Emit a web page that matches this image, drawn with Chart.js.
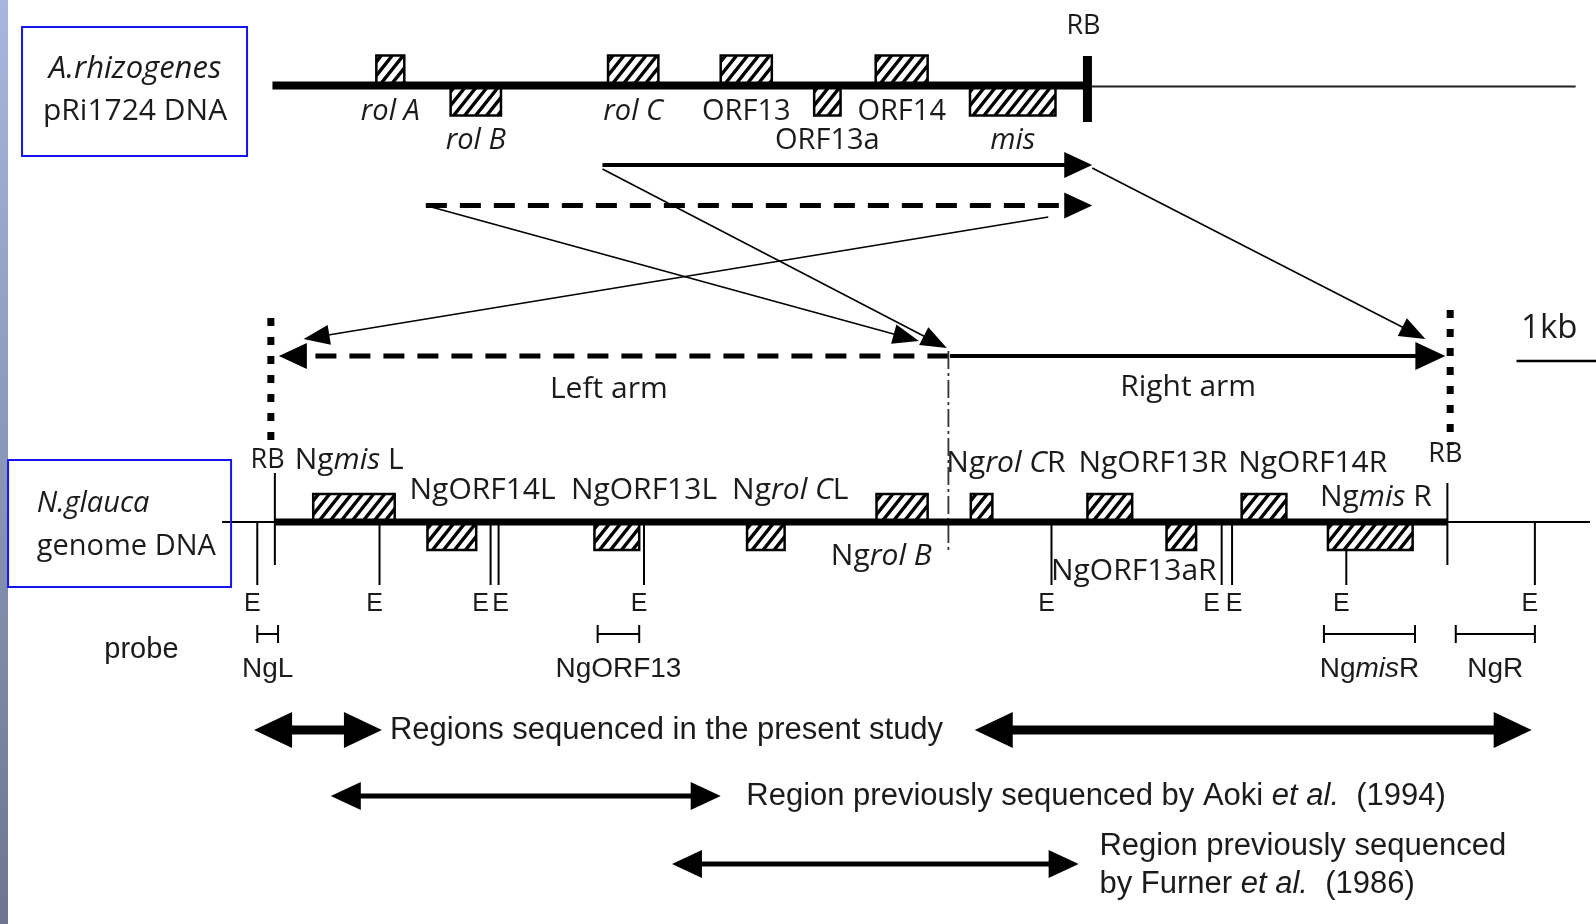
<!DOCTYPE html>
<html>
<head>
<meta charset="utf-8">
<script src="https://cdn.jsdelivr.net/npm/chart.js@4.4.0/dist/chart.umd.min.js"></script>
<style>
html, body { margin: 0; padding: 0; background: #fff; overflow: hidden; }
canvas { display: block; }
</style>
</head>
<body>
<canvas id="mapa" width="1596" height="924"></canvas>
<script>
// all positions in kb along the map axis (0 = left RB of the N. glauca copy)

// A. rhizogenes pRi1724 T-DNA
const riGenes  = ['*rol A*', '*rol B*', '*rol C*', 'ORF13', 'ORF13a', 'ORF14', '*mis*'];
const riStart  = [1.27, 2.20, 4.17, 5.58, 6.75, 7.52, 8.70];
const riEnd    = [1.62, 2.83, 4.80, 6.22, 7.08, 8.17, 9.77];
const riStrand = ['+', '-', '+', '+', '-', '+', '-'];
const riLine   = [-0.03, 10.17, 16.28];   // start, RB, end of plasmid line

// pieces of the Ri T-DNA found in the plant genome
const segDashed = [1.89, 10.23];
const segSolid  = [4.10, 10.23];
const mapFrom   = [1.89, 4.10, 9.68, 10.23];
const mapTo     = [8.06, 8.41, 0.36, 14.40];

// N. glauca cellular T-DNA
const ngGenes  = ['Ng*mis* L', 'NgORF14L', 'NgORF13L', 'Ng*rol C*L', 'Ng*rol B*', 'Ng*rol C*R', 'NgORF13R', 'NgORF13aR', 'NgORF14R', 'Ng*mis* R'];
const ngStart  = [0.48, 1.91, 4.00, 5.91, 7.53, 8.71, 10.17, 11.16, 12.10, 13.18];
const ngEnd    = [1.50, 2.52, 4.56, 6.38, 8.17, 8.98, 10.73, 11.53, 12.66, 14.24];
const ngStrand = ['+', '-', '-', '-', '+', '+', '+', '-', '+', '-'];
const ngLine   = [-0.66, 0, 14.675, 16.46]; // thin start, RB left, RB right, thin end
const armLeft  = [8.43, 0.05];
const armRight = [8.45, 14.65];
const junction = 8.43;

// EcoRI sites
const ecoSites = [-0.22, 1.31, 2.70, 2.80, 4.62, 9.72, 11.85, 11.98, 13.41, 15.77];

// probes
const probeNames = ['NgL', 'NgORF13', 'Ng*mis*R', 'NgR'];
const probeStart = [-0.22, 4.04, 13.13, 14.78];
const probeEnd   = [0.04, 4.56, 14.27, 15.77];

// sequenced regions
const regionStart = [-0.26, 8.76, 0.70, 4.97];
const regionEnd   = [1.34, 15.73, 5.58, 10.06];
const regionKind  = ['present', 'present', 'aoki', 'furner'];

const scaleBar = [15.54, 16.54];

// ---- layout (pixels on the y scale, label anchors in kb) ----
const lay = {
    topLine: 85.5, topBox: 30, rbBar: [56, 122], rbLabel: 26,
    topLab: { '+': 112, '-': 141 },
    tlSolid: 165, tlDashed: 205.5,
    mapY1: [205.5, 169, 217, 168], mapY2: [341, 348, 339, 339],
    dotL: [-0.05, 318, 448], dotR: [14.71, 310, 445],
    arms: 356, junc: [351, 550], armLab: 389,
    kb: 329, kbBar: 361,
    ngLine: 522, ngBox: 28,
    rbTick: [[473, 565], [483, 565]], rbLab: [[-0.09, 460], [14.65, 454]],
    eTick: [522, 585], eLab: 604,
    probe: 634, probeLab: 669, probeWord: [-1.67, 650],
    regY: { present: 730, aoki: 796, furner: 864 }
};
const ngLabX = [0.93, 2.60, 4.62, 6.45, 7.59, 9.15, 10.99, 10.75, 12.99, 13.78];
const ngLabY = [460, 490, 490, 490, 556, 463, 463, 571, 463, 497];

const INK = '#1b1b1b';
const SANS = '"Open Sans"';
const HELV = '"Liberation Sans"';

function richText(ctx, str, x, y, size, family, align) {
    const parts = str.split('*');
    let w = 0;
    const segs = parts.map((t, i) => {
        const f = (i % 2 ? 'italic ' : '') + size + 'px ' + family;
        ctx.font = f;
        const m = ctx.measureText(t).width;
        w += m;
        return { t, f, m };
    });
    let cx = align === 'center' ? x - w / 2 : x;
    ctx.textAlign = 'left';
    ctx.textBaseline = 'middle';
    ctx.fillStyle = INK;
    segs.forEach(s => { ctx.font = s.f; ctx.fillText(s.t, cx, y); cx += s.m; });
}

function hatchBox(ctx, x, y, w, h) {
    ctx.save();
    ctx.fillStyle = '#fff';
    ctx.fillRect(x, y, w, h);
    ctx.beginPath();
    ctx.rect(x, y, w, h);
    ctx.clip();
    ctx.strokeStyle = '#000';
    ctx.lineWidth = 3.4;
    ctx.beginPath();
    for (let s = -h; s < w + h; s += 11) {
        ctx.moveTo(x + s, y + h);
        ctx.lineTo(x + s + h * 0.8, y);
    }
    ctx.stroke();
    ctx.restore();
    ctx.strokeStyle = '#000';
    ctx.lineWidth = 2.5;
    ctx.strokeRect(x, y, w, h);
}

function arrow(ctx, x1, y1, x2, y2, o) {
    const a = Math.atan2(y2 - y1, x2 - x1);
    const c = Math.cos(a), s = Math.sin(a);
    const L = o.head, H = o.half;
    let sx = x1, sy = y1, ex = x2, ey = y2;
    if (o.start) { sx += c * L * 0.9; sy += s * L * 0.9; }
    if (o.end !== false) { ex -= c * L * 0.9; ey -= s * L * 0.9; }
    ctx.save();
    ctx.strokeStyle = '#000';
    ctx.fillStyle = '#000';
    ctx.lineWidth = o.lw;
    ctx.lineCap = 'butt';
    ctx.setLineDash(o.dash || []);
    ctx.beginPath();
    ctx.moveTo(sx, sy);
    ctx.lineTo(ex, ey);
    ctx.stroke();
    ctx.setLineDash([]);
    const head = (tx, ty, ang) => {
        const cc = Math.cos(ang), ss = Math.sin(ang);
        ctx.beginPath();
        ctx.moveTo(tx, ty);
        ctx.lineTo(tx - cc * L - ss * H, ty - ss * L + cc * H);
        ctx.lineTo(tx - cc * L + ss * H, ty - ss * L - cc * H);
        ctx.closePath();
        ctx.fill();
    };
    if (o.end !== false) head(x2, y2, a);
    if (o.start) head(x1, y1, a + Math.PI);
    ctx.restore();
}

function vline(ctx, x, y1, y2, lw, dash, color) {
    ctx.save();
    ctx.strokeStyle = color || '#000';
    ctx.lineWidth = lw;
    ctx.setLineDash(dash || []);
    ctx.beginPath();
    ctx.moveTo(x, y1);
    ctx.lineTo(x, y2);
    ctx.stroke();
    ctx.restore();
}

function hline(ctx, x1, x2, y, lw, color) {
    ctx.save();
    ctx.strokeStyle = color || '#000';
    ctx.lineWidth = lw;
    ctx.beginPath();
    ctx.moveTo(x1, y);
    ctx.lineTo(x2, y);
    ctx.stroke();
    ctx.restore();
}

const mapaPlugin = {
    id: 'mapa',
    beforeDraw(chart) {
        const ctx = chart.ctx;
        ctx.save();
        ctx.fillStyle = '#fff';
        ctx.fillRect(0, 0, chart.width, chart.height);
        const g = ctx.createLinearGradient(0, 0, 0, chart.height);
        g.addColorStop(0, '#a8b6de');
        g.addColorStop(1, '#6c7690');
        ctx.fillStyle = g;
        ctx.fillRect(0, 0, 8, chart.height);
        ctx.restore();
    },
    afterDraw(chart) {
        const ctx = chart.ctx;
        const X = v => chart.scales.x.getPixelForValue(v);
        const Y = v => chart.scales.y.getPixelForValue(v);

        // ---------- pRi1724 ----------
        const ty = Y(lay.topLine);
        riGenes.forEach((g, i) => {
            const x0 = X(riStart[i]), x1 = X(riEnd[i]);
            const y0 = riStrand[i] === '+' ? ty - lay.topBox : ty;
            hatchBox(ctx, x0, y0, x1 - x0, lay.topBox);
            richText(ctx, g, (x0 + x1) / 2, Y(lay.topLab[riStrand[i]]), 29, SANS, 'center');
        });
        hline(ctx, X(riLine[0]), X(riLine[1]), ty, 8);
        hline(ctx, X(riLine[1]), X(riLine[2]), ty + 1, 2, '#222');
        ctx.fillStyle = '#000';
        ctx.fillRect(X(riLine[1]) - 4.5, Y(lay.rbBar[0]), 9, Y(lay.rbBar[1]) - Y(lay.rbBar[0]));
        richText(ctx, 'RB', X(riLine[1]) - 4, Y(lay.rbLabel), 27, SANS, 'center');

        arrow(ctx, X(segSolid[0]), Y(lay.tlSolid), X(segSolid[1]), Y(lay.tlSolid), { lw: 4, head: 28, half: 13 });
        arrow(ctx, X(segDashed[0]), Y(lay.tlDashed), X(segDashed[1]), Y(lay.tlDashed), { lw: 5, head: 28, half: 13, dash: [21, 13] });

        mapFrom.forEach((f, i) => {
            arrow(ctx, X(f), Y(lay.mapY1[i]), X(mapTo[i]), Y(lay.mapY2[i]), { lw: 1.6, head: 26, half: 10 });
        });

        // ---------- arms ----------
        vline(ctx, X(lay.dotL[0]), Y(lay.dotL[1]), Y(lay.dotL[2]), 7, [8, 11]);
        vline(ctx, X(lay.dotR[0]), Y(lay.dotR[1]), Y(lay.dotR[2]), 7, [8, 11]);
        arrow(ctx, X(armLeft[0]), Y(lay.arms), X(armLeft[1]), Y(lay.arms), { lw: 5, head: 28, half: 13, dash: [21, 13] });
        arrow(ctx, X(armRight[0]), Y(lay.arms), X(armRight[1]), Y(lay.arms), { lw: 4, head: 30, half: 14 });
        vline(ctx, X(junction), Y(lay.junc[0]), Y(lay.junc[1]), 1.8, [18, 4, 3, 4], '#333');
        richText(ctx, 'Left arm', X(4.18), Y(lay.armLab), 30, SANS, 'center');
        richText(ctx, 'Right arm', X(11.43), Y(lay.armLab - 2), 30, SANS, 'center');
        richText(ctx, '1kb', X(15.95), Y(lay.kb), 33, SANS, 'center');
        hline(ctx, X(scaleBar[0]), X(scaleBar[1]), Y(lay.kbBar), 2.5);

        // ---------- N. glauca ----------
        const ny = Y(lay.ngLine);
        hline(ctx, X(ngLine[0]), X(ngLine[3]), ny, 2);
        ecoSites.forEach((e, i) => {
            vline(ctx, X(e), Y(lay.eTick[0]), Y(lay.eTick[1]), 2);
            const prevClose = i > 0 && e - ecoSites[i - 1] < 0.2;
            const nextClose = i < ecoSites.length - 1 && ecoSites[i + 1] - e < 0.2;
            const off = nextClose ? -10 : (prevClose ? 2 : -5);
            richText(ctx, 'E', X(e) + off, Y(lay.eLab), 25, HELV, 'center');
        });
        ngGenes.forEach((g, i) => {
            const x0 = X(ngStart[i]), x1 = X(ngEnd[i]);
            const y0 = ngStrand[i] === '+' ? ny - lay.ngBox : ny;
            hatchBox(ctx, x0, y0, x1 - x0, lay.ngBox);
            richText(ctx, g, X(ngLabX[i]), Y(ngLabY[i]), 30, SANS, 'center');
        });
        hline(ctx, X(ngLine[1]), X(ngLine[2]), ny, 7);
        [ngLine[1], ngLine[2]].forEach((v, i) => {
            vline(ctx, X(v), Y(lay.rbTick[i][0]), Y(lay.rbTick[i][1]), 2);
            richText(ctx, 'RB', X(lay.rbLab[i][0]), Y(lay.rbLab[i][1]), 27, SANS, 'center');
        });

        // probes
        probeNames.forEach((p, i) => {
            const x0 = X(probeStart[i]), x1 = X(probeEnd[i]);
            const py = Y(lay.probe);
            hline(ctx, x0, x1, py, 2);
            vline(ctx, x0, py - 9, py + 9, 2);
            vline(ctx, x1, py - 9, py + 9, 2);
            richText(ctx, p, (x0 + x1) / 2, Y(lay.probeLab), 28, HELV, 'center');
        });
        richText(ctx, 'probe', X(lay.probeWord[0]), Y(lay.probeWord[1]), 29, HELV, 'center');

        // sequenced regions
        regionKind.forEach((k, i) => {
            const big = k === 'present';
            const st = big ? { lw: 9, head: 38, half: 18 } : { lw: 5, head: 30, half: 14 };
            arrow(ctx, X(regionStart[i]), Y(lay.regY[k]), X(regionEnd[i]), Y(lay.regY[k]), Object.assign({ start: true }, st));
        });
        richText(ctx, 'Regions sequenced in the present study', X(1.44), Y(lay.regY.present), 31, HELV, 'left');
        richText(ctx, 'Region previously sequenced by Aoki *et al.*  (1994)', X(5.90), Y(lay.regY.aoki), 31, HELV, 'left');
        richText(ctx, 'Region previously sequenced', X(10.32), Y(846), 31, HELV, 'left');
        richText(ctx, 'by Furner *et al.*  (1986)', X(10.32), Y(884), 31, HELV, 'left');

        // ---------- labels in blue frames ----------
        ctx.save();
        ctx.strokeStyle = '#1414f0';
        ctx.lineWidth = 2;
        ctx.strokeRect(X(-3.164), Y(27), X(-0.348) - X(-3.164), Y(156) - Y(27));
        ctx.strokeRect(X(-3.339), Y(460), X(-0.548) - X(-3.339), Y(587) - Y(460));
        ctx.restore();
        richText(ctx, '*A.rhizogenes*', X(-1.75), Y(69), 31, SANS, 'center');
        richText(ctx, 'pRi1724 DNA', X(-1.75), Y(111), 30, SANS, 'center');
        richText(ctx, '*N.glauca*', X(-2.98), Y(504), 29, SANS, 'left');
        richText(ctx, 'genome DNA', X(-2.98), Y(547), 29, SANS, 'left');
    }
};

new Chart(document.getElementById('mapa').getContext('2d'), {
    type: 'scatter',
    data: { datasets: [] },
    options: {
        responsive: false,
        animation: false,
        layout: { padding: 0 },
        plugins: { legend: { display: false }, tooltip: { enabled: false } },
        scales: {
            x: { type: 'linear', min: -3.44, max: 16.535, display: false },
            y: { type: 'linear', min: 0, max: 924, reverse: true, display: false }
        }
    },
    plugins: [mapaPlugin]
});
</script>
</body>
</html>
